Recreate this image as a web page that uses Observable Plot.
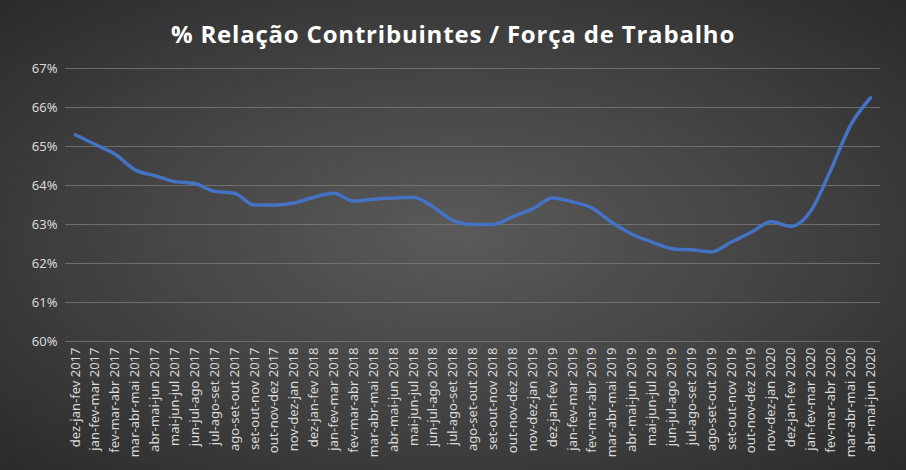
<!DOCTYPE html><html><head><meta charset="utf-8">
<script src="https://cdn.jsdelivr.net/npm/d3@7"></script>
<script src="https://cdn.jsdelivr.net/npm/@observablehq/plot@0.6"></script>
<style>
body{margin:0;}
#c{width:906px;height:470px;background:radial-gradient(ellipse at center,#5a5a5a 0%,#3f3f3f 60%,#2a2a2a 100%);overflow:hidden}
h1{margin:0;padding-top:17px;height:33px;text-align:center;color:#fff;font-size:24px;font-weight:bold;font-family:"Open Sans",sans-serif;letter-spacing:0.8px}
</style></head><body><div id="c"><h1>% Relação Contribuintes / Força de Trabalho</h1></div>
<script>
const periods=["dez-jan-fev","jan-fev-mar","fev-mar-abr","mar-abr-mai","abr-mai-jun","mai-jun-jul","jun-jul-ago","jul-ago-set","ago-set-out","set-out-nov","out-nov-dez","nov-dez-jan","dez-jan-fev","jan-fev-mar","fev-mar-abr","mar-abr-mai","abr-mai-jun","mai-jun-jul","jun-jul-ago","jul-ago-set","ago-set-out","set-out-nov","out-nov-dez","nov-dez-jan","dez-jan-fev","jan-fev-mar","fev-mar-abr","mar-abr-mai","abr-mai-jun","mai-jun-jul","jun-jul-ago","jul-ago-set","ago-set-out","set-out-nov","out-nov-dez","nov-dez-jan","dez-jan-fev","jan-fev-mar","fev-mar-abr","mar-abr-mai","abr-mai-jun"];
const years=[2017,2017,2017,2017,2017,2017,2017,2017,2017,2017,2017,2018,2018,2018,2018,2018,2018,2018,2018,2018,2018,2018,2018,2019,2019,2019,2019,2019,2019,2019,2019,2019,2019,2019,2019,2020,2020,2020,2020,2020,2020];
const values=[65.3,65.05,64.8,64.4,64.25,64.1,64.05,63.85,63.8,63.5,63.5,63.55,63.7,63.8,63.6,63.65,63.68,63.7,63.45,63.1,63.0,63.0,63.2,63.4,63.68,63.58,63.42,63.05,62.75,62.55,62.38,62.35,62.3,62.55,62.8,63.07,62.95,63.35,64.4,65.55,66.25];
const labels=periods.map((p,i)=>p+" "+years[i]);
const data=labels.map((l,i)=>({l,v:values[i]}));
const chart=Plot.plot({width:906,height:420,marginTop:18,marginLeft:65,marginRight:26,marginBottom:129,
style:{background:"transparent",color:"#d9d9d9",fontSize:"13px",fontFamily:"'Noto Sans',sans-serif"},
x:{domain:labels,type:"point",label:null,tickRotate:-90,tickSize:0,tickPadding:6},
y:{domain:[60,67],ticks:d3.range(60,68),tickFormat:d=>d+"%",label:null,tickSize:0,tickPadding:8},
marks:[Plot.gridY(d3.range(60,68),{stroke:"#7a7a7a",strokeOpacity:1,strokeWidth:0.8}),
Plot.line(data,{x:"l",y:"v",stroke:"#4472c4",strokeWidth:3.5,curve:"monotone-x"})]});
document.getElementById("c").appendChild(chart);
</script></body></html>
